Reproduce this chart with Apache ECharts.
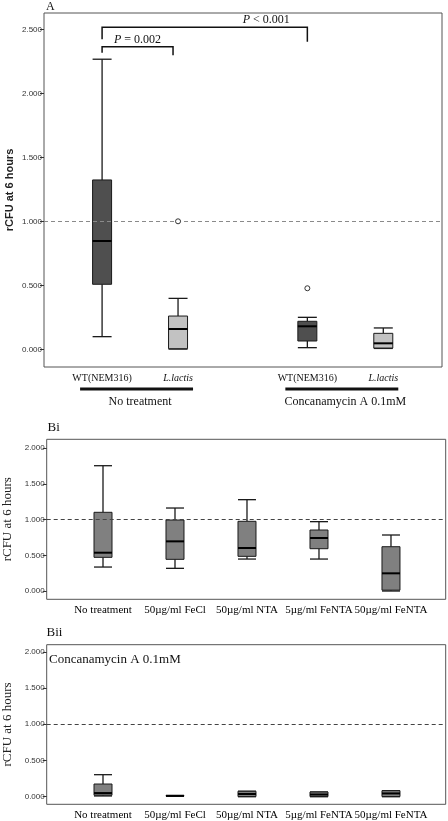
<!DOCTYPE html>
<html><head><meta charset="utf-8">
<script src="https://cdn.jsdelivr.net/npm/echarts@6/dist/echarts.min.js"></script>
<style>html,body{margin:0;padding:0;background:#fff}#c{width:448px;height:821px}</style>
</head><body><div id="c"></div>
<script>
// ---------- Panel A data ----------
const groupsA = ['No treatment', 'Concanamycin A 0.1mM'];
const strainsA = ['WT(NEM316)', 'L.lactis'];
// box stats: [min, Q1, median, Q3, max] per group
const boxA_WT = [[0.102, 0.511, 0.849, 1.326, 2.269], [0.016, 0.068, 0.183, 0.222, 0.253]];
const boxA_Llactis = [[0.005, 0.008, 0.162, 0.263, 0.401], [0.010, 0.013, 0.050, 0.128, 0.170]];
// outliers: [groupIndex, strainIndex, value]
const outliersA = [[0, 1, 1.003], [1, 0, 0.480]];
// significance brackets: [fromGroup, fromStrain, toGroup, toStrain, barValue, leftLegValue, rightLegValue]
const pTexts = ['P = 0.002', 'P < 0.001'];
const bracketsA = [[0, 0, 0, 1, 2.367, 2.32, 2.30], [0, 0, 1, 0, 2.519, 2.425, 2.406]];
const ticksA = [0, 0.5, 1, 1.5, 2, 2.5];

// ---------- Panel B data ----------
const treatmentsB = ['No treatment', '50µg/ml FeCl', '50µg/ml NTA', '5µg/ml FeNTA', '50µg/ml FeNTA'];
const boxBi = [
  [0.336, 0.472, 0.537, 1.103, 1.756],
  [0.318, 0.444, 0.696, 0.995, 1.163],
  [0.448, 0.486, 0.603, 0.977, 1.280],
  [0.448, 0.593, 0.743, 0.855, 0.972],
  [0.000, 0.012, 0.248, 0.621, 0.785]
];
const boxBii = [
  [0.010, 0.020, 0.050, 0.175, 0.304],
  [0.008, 0.008, 0.012, 0.016, 0.016],
  [0.000, 0.002, 0.037, 0.075, 0.075],
  [0.000, 0.002, 0.030, 0.065, 0.065],
  [0.000, 0.002, 0.045, 0.083, 0.083]
];
const ticksB = [0, 0.5, 1, 1.5, 2];
const refValue = 1.0;

// ---------- layout / style ----------
const OFF = 0.185;            // strain offset inside a cluster (panel A)
const SERIF = '"Liberation Serif", "Times New Roman", serif';
const SANS = '"Liberation Sans", Arial, sans-serif';
const pTextFrac = [0.5, 0.8];
const bracketEndNudge = [-5, 0];   // px nudge of bracket right ends
const strainItalic = [false, true];

function boxRender(width, fill) {
  return function (params, api) {
    const x = api.value(0);
    const pts = [1, 2, 3, 4, 5].map(i => api.coord([x, api.value(i)]));
    const cx = pts[0][0];
    const yMin = pts[0][1], yQ1 = pts[1][1], yMed = pts[2][1], yQ3 = pts[3][1], yMax = pts[4][1];
    const hw = width / 2;
    const ls = { stroke: '#1a1a1a', lineWidth: 1.3 };
    return {
      type: 'group', children: [
        { type: 'line', shape: { x1: cx, y1: yMax, x2: cx, y2: yQ3 }, style: ls },
        { type: 'line', shape: { x1: cx, y1: yQ1, x2: cx, y2: yMin }, style: ls },
        { type: 'line', shape: { x1: cx - hw, y1: yMax, x2: cx + hw, y2: yMax }, style: ls },
        { type: 'line', shape: { x1: cx - hw, y1: yMin, x2: cx + hw, y2: yMin }, style: ls },
        { type: 'rect', shape: { x: cx - hw, y: yQ3, width: width, height: yQ1 - yQ3 }, style: { fill: fill, stroke: '#1a1a1a', lineWidth: 1 } },
        { type: 'line', shape: { x1: cx - hw, y1: yMed, x2: cx + hw, y2: yMed }, style: { stroke: '#000', lineWidth: 2 } }
      ]
    };
  };
}

function yAxisCfg(gridIndex, min, max, ticks, name, nameStyle, nameGap) {
  return {
    type: 'value', gridIndex, min, max, position: 'left',
    axisLine: { show: false, onZero: false },
    splitLine: { show: false },
    axisTick: { show: true, length: 4, lineStyle: { color: '#333', width: 1 }, customValues: ticks },
    axisLabel: { fontSize: 8, fontFamily: SANS, color: '#333', margin: 2, formatter: v => v.toFixed(3), customValues: ticks },
    name, nameLocation: 'middle', nameRotate: 90, nameGap, nameMoveOverlap: false, nameTextStyle: nameStyle
  };
}

function refLineSeries(xi, yi, color) {
  return {
    type: 'line', xAxisIndex: xi, yAxisIndex: yi, data: [], z: 5,
    markLine: {
      silent: true, symbol: 'none', animation: false, label: { show: false },
      lineStyle: { color, type: [4, 3], width: 1.2 },
      data: [{ yAxis: refValue }]
    }
  };
}

const chart = echarts.init(document.getElementById('c'), null, { renderer: 'canvas' });

const gridBase = { show: true, borderColor: '#555', borderWidth: 1, backgroundColor: 'transparent', containLabel: false, outerBoundsMode: 'none' };

const option = {
  animation: false,
  backgroundColor: '#fff',
  grid: [
    Object.assign({ left: 44, top: 13, width: 398, height: 354 }, gridBase),
    Object.assign({ left: 46.7, top: 439.3, width: 399, height: 160 }, gridBase),
    Object.assign({ left: 46.7, top: 644.7, width: 399, height: 159.6 }, gridBase)
  ],
  xAxis: [
    { type: 'value', gridIndex: 0, min: -0.468, max: 1.471, show: false },
    {
      type: 'value', gridIndex: 1, min: -0.782, max: 4.76, position: 'bottom',
      axisLine: { show: false, onZero: false }, axisTick: { show: false }, splitLine: { show: false },
      axisLabel: { customValues: [0, 1, 2, 3, 4], formatter: v => treatmentsB[Math.round(v)], fontFamily: SERIF, fontSize: 11, color: '#000', margin: 5 }
    },
    {
      type: 'value', gridIndex: 2, min: -0.782, max: 4.76, position: 'bottom',
      axisLine: { show: false, onZero: false }, axisTick: { show: false }, splitLine: { show: false },
      axisLabel: { customValues: [0, 1, 2, 3, 4], formatter: v => treatmentsB[Math.round(v)], fontFamily: SERIF, fontSize: 11, color: '#000', margin: 5 }
    }
  ],
  yAxis: [
    yAxisCfg(0, -0.135, 2.63, ticksA, 'rCFU at 6 hours', { fontFamily: SANS, fontWeight: 'bold', fontSize: 11, color: '#222' }, 29),
    yAxisCfg(1, -0.116, 2.126, ticksB, 'rCFU at 6 hours', { fontFamily: SERIF, fontSize: 13, color: '#222' }, 33),
    yAxisCfg(2, -0.105, 2.099, ticksB, 'rCFU at 6 hours', { fontFamily: SERIF, fontSize: 13, color: '#222' }, 33)
  ],
  graphic: [
    { type: 'text', left: 46, top: 1, style: { text: 'A', font: '12px ' + SERIF, fill: '#111' } },
    { type: 'text', left: 47.5, top: 421, style: { text: 'Bi', font: '13px ' + SERIF, fill: '#111' } },
    { type: 'text', left: 46.5, top: 626, style: { text: 'Bii', font: '13px ' + SERIF, fill: '#111' } },
    { type: 'text', left: 49, top: 653, style: { text: 'Concanamycin A 0.1mM', font: '13px ' + SERIF, fill: '#111' } }
  ],
  series: [
    refLineSeries(0, 0, '#8a8a8a'),
    {
      type: 'custom', xAxisIndex: 0, yAxisIndex: 0, z: 3,
      renderItem: boxRender(19, '#4f4f4f'),
      encode: { x: 0, y: [1, 2, 3, 4, 5] },
      data: boxA_WT.map((b, g) => [g - OFF].concat(b))
    },
    {
      type: 'custom', xAxisIndex: 0, yAxisIndex: 0, z: 3,
      renderItem: boxRender(19, '#c2c2c2'),
      encode: { x: 0, y: [1, 2, 3, 4, 5] },
      data: boxA_Llactis.map((b, g) => [g + OFF].concat(b))
    },
    {
      type: 'scatter', xAxisIndex: 0, yAxisIndex: 0, z: 10,
      symbol: 'circle', symbolSize: 5,
      itemStyle: { color: '#fff', borderColor: '#333', borderWidth: 1, opacity: 1 },
      data: outliersA.map(o => [o[0] + (o[1] ? OFF : -OFF), o[2]])
    },
    {
      type: 'custom', xAxisIndex: 0, yAxisIndex: 0, z: 6, clip: false,
      encode: { x: [0, 1], y: [2, 3, 4] },
      data: bracketsA.map((b, i) => [b[0] + (b[1] ? OFF : -OFF), b[2] + (b[3] ? OFF : -OFF), b[4], b[5], b[6], i]),
      renderItem: function (params, api) {
        const i = api.value(5);
        const a = api.coord([api.value(0), api.value(2)]);
        const b = api.coord([api.value(1), api.value(2)]);
        b[0] += bracketEndNudge[i];
        const l1 = api.coord([api.value(0), api.value(3)]);
        const l2 = api.coord([api.value(1), api.value(4)]);
        const tx = a[0] + (b[0] - a[0]) * pTextFrac[i];
        const parts = pTexts[i].split(' ');
        return {
          type: 'group', children: [
            { type: 'polyline', shape: { points: [[a[0], l1[1]], a, b, [b[0], l2[1]]] }, style: { stroke: '#111', lineWidth: 1.5, fill: null } },
            {
              type: 'text', x: tx, y: a[1] - 1,
              style: {
                text: '{i|' + parts[0] + '} ' + parts.slice(1).join(' '),
                align: 'center', verticalAlign: 'bottom',
                fontFamily: SERIF, fontSize: 12, fill: '#111',
                rich: { i: { fontStyle: 'italic', fontFamily: SERIF, fontSize: 12, fill: '#111' } }
              }
            }
          ]
        };
      }
    },
    {
      type: 'custom', xAxisIndex: 0, yAxisIndex: 0, z: 6, clip: false,
      encode: { x: 0, y: 1 },
      data: groupsA.map((g, i) => [i, 0]),
      renderItem: function (params, api) {
        const g = api.value(0);
        const bottom = params.coordSys.y + params.coordSys.height;
        const xw = api.coord([g - OFF, 0])[0];
        const xl = api.coord([g + OFF, 0])[0];
        const children = [
          { type: 'line', shape: { x1: xw - 22, y1: bottom + 22, x2: xl + 15, y2: bottom + 22 }, style: { stroke: '#111', lineWidth: 3 } },
          { type: 'text', x: (xw + xl) / 2, y: bottom + 35, style: { text: groupsA[g], align: 'center', verticalAlign: 'middle', fontFamily: SERIF, fontSize: 12, fill: '#111' } }
        ];
        [xw, xl].forEach((xx, s) => {
          children.push({ type: 'text', x: xx, y: bottom + 11, style: { text: strainsA[s], align: 'center', verticalAlign: 'middle', fontFamily: SERIF, fontSize: 10, fontStyle: strainItalic[s] ? 'italic' : 'normal', fill: '#111' } });
        });
        return { type: 'group', children };
      }
    },
    refLineSeries(1, 1, '#444'),
    {
      type: 'custom', xAxisIndex: 1, yAxisIndex: 1, z: 3,
      renderItem: boxRender(18, '#808080'),
      encode: { x: 0, y: [1, 2, 3, 4, 5] },
      data: boxBi.map((b, i) => [i].concat(b))
    },
    refLineSeries(2, 2, '#444'),
    {
      type: 'custom', xAxisIndex: 2, yAxisIndex: 2, z: 3,
      renderItem: boxRender(18, '#808080'),
      encode: { x: 0, y: [1, 2, 3, 4, 5] },
      data: boxBii.map((b, i) => [i].concat(b))
    }
  ]
};
chart.setOption(option);
</script>
</body></html>
